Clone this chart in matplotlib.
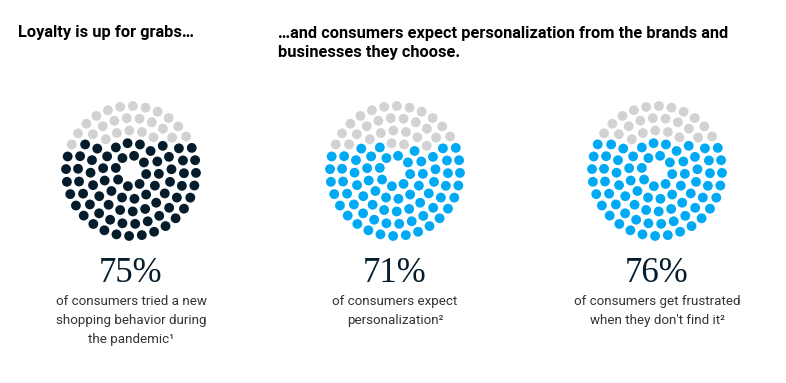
import numpy as np
import matplotlib
matplotlib.use("Agg")
import matplotlib.pyplot as plt

# Data
percentages = [75, 71, 76]
labels = ["75%", "71%", "76%"]
descriptions = [
    "of consumers tried a new\nshopping behavior during\nthe pandemic\u00b9",
    "of consumers expect\npersonalization\u00b2",
    "of consumers get frustrated\nwhen they don't find it\u00b2",
]
titles = ["Loyalty is up for grabs\u2026",
          "\u2026and consumers expect personalization from the brands and\nbusinesses they choose."]
fill_colors = ["#051c2c", "#00a9f4", "#00a9f4"]
empty_color = "#d2d2d2"
ring_counts = [8, 14, 20, 26, 32]  # 100 dots total

fig = plt.figure(figsize=(7.86, 3.83), dpi=100)
ax = fig.add_axes([0, 0, 1, 1])
ax.set_xlim(0, 786)
ax.set_ylim(383, 0)
ax.axis("off")

centers_x = [131, 395, 657]
cy = 171
radii = [15.5, 28, 40.5, 53, 65]

for k, (pct, cx) in enumerate(zip(percentages, centers_x)):
    xs, ys = [], []
    for i, (n, r) in enumerate(zip(ring_counts, radii)):
        off = 0.35 * i + 0.2
        ang = off + 2 * np.pi * np.arange(n) / n
        xs.extend(cx + r * np.cos(ang))
        ys.extend(cy + r * np.sin(ang))
    xs = np.array(xs); ys = np.array(ys)
    score = ys + 0.03 * (xs - cx)
    order = np.argsort(score)
    n_empty = 100 - pct
    colors = np.array([fill_colors[k]] * 100, dtype=object)
    colors[order[:n_empty]] = empty_color
    ax.scatter(xs, ys, s=50, c=list(colors), linewidths=0)
    ax.text(cx, 273, labels[k], ha="center", va="center", fontsize=25,
            family="Liberation Serif", color="#051c2c")
    ax.text(cx, 295, descriptions[k], ha="center", va="top", fontsize=9.6,
            family="Roboto", color="#333333", linespacing=1.62)

ax.text(18, 33, titles[0], ha="left", va="center", fontsize=11.8,
        family="Roboto", weight="bold", color="#000000")
ax.text(278, 43, titles[1], ha="left", va="center", fontsize=11.8,
        family="Roboto", weight="bold", color="#000000", linespacing=1.3)

fig.savefig("out.png", dpi=100)
